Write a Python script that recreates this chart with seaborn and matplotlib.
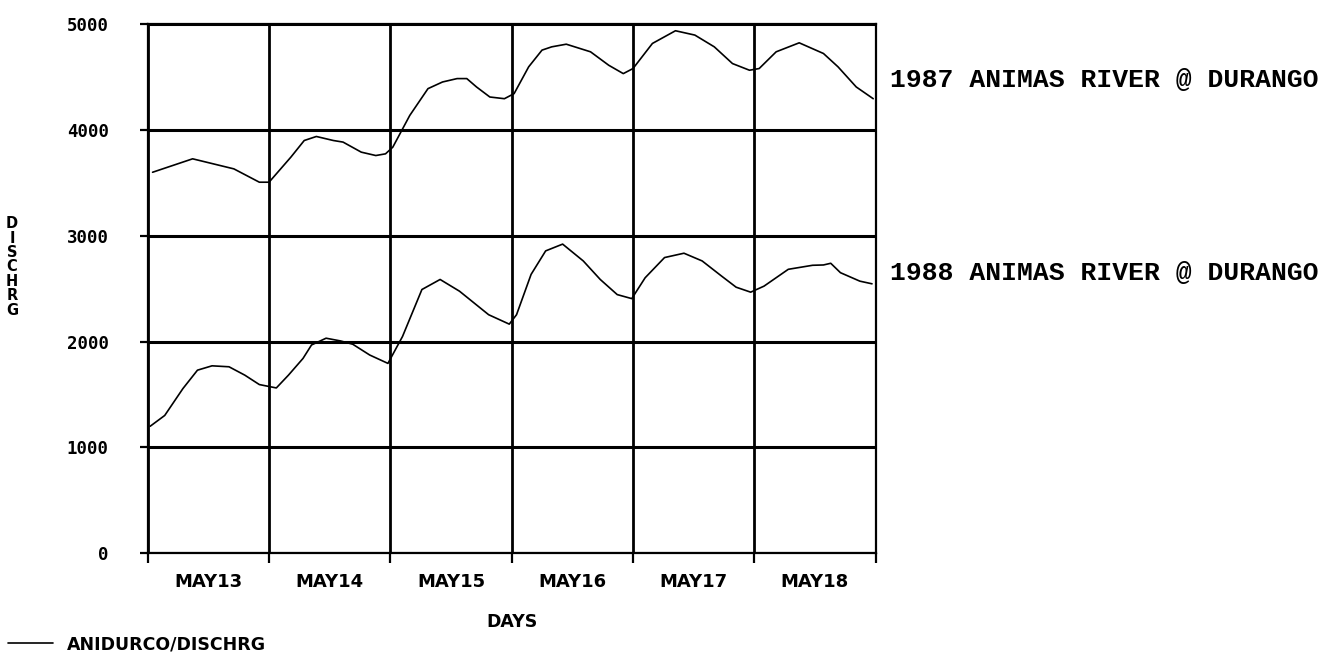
import matplotlib
matplotlib.use("Agg")
import matplotlib.pyplot as plt
import numpy as np
import pandas as pd
import seaborn as sns

day_1987 = [0.04, 0.37, 0.71, 0.92, 1.00, 1.18, 1.29, 1.39, 1.53, 1.61, 1.76, 1.88, 1.96,
            2.02, 2.16, 2.31, 2.43, 2.55, 2.63, 2.71, 2.82, 2.94, 3.02, 3.14, 3.25, 3.33,
            3.45, 3.65, 3.80, 3.92, 4.00, 4.16, 4.35, 4.51, 4.67, 4.82, 4.96, 5.04, 5.18,
            5.37, 5.57, 5.69, 5.84, 5.98]
q_1987 = [3600, 3727, 3632, 3506, 3506, 3743, 3900, 3938, 3900, 3885, 3790, 3758, 3774,
          3837, 4137, 4390, 4453, 4485, 4485, 4406, 4311, 4295, 4343, 4596, 4754, 4785,
          4810, 4738, 4611, 4532, 4580, 4817, 4937, 4896, 4785, 4627, 4564, 4580, 4738,
          4823, 4722, 4596, 4406, 4295]

day_1988 = [0.02, 0.14, 0.29, 0.41, 0.53, 0.67, 0.80, 0.92, 1.06, 1.16, 1.28, 1.35, 1.47,
            1.59, 1.69, 1.83, 1.98, 2.10, 2.26, 2.41, 2.57, 2.81, 2.98, 3.04, 3.16, 3.28,
            3.42, 3.59, 3.73, 3.87, 3.99, 4.10, 4.26, 4.42, 4.57, 4.73, 4.85, 4.97, 5.08,
            5.28, 5.48, 5.57, 5.63, 5.71, 5.87, 5.97]
q_1988 = [1200, 1302, 1556, 1730, 1771, 1762, 1683, 1594, 1562, 1683, 1841, 1968, 2032,
          2006, 1975, 1873, 1794, 2048, 2492, 2587, 2476, 2254, 2165, 2254, 2635, 2857,
          2921, 2762, 2587, 2444, 2406, 2603, 2794, 2835, 2762, 2619, 2514, 2467, 2524,
          2683, 2721, 2724, 2740, 2651, 2571, 2546]

day_labels = ["MAY13", "MAY14", "MAY15", "MAY16", "MAY17", "MAY18"]
y_ticks = [0, 1000, 2000, 3000, 4000, 5000]
series_labels = ["1987 ANIMAS RIVER @ DURANGO", "1988 ANIMAS RIVER @ DURANGO"]

sns.set_style("white")
plt.rcParams.update({"font.family": ["DejaVu Sans"],
                     "axes.linewidth": 1.6,
                     "text.color": "black",
                     "axes.labelcolor": "black",
                     "xtick.color": "black",
                     "ytick.color": "black",
                     "xtick.bottom": True,
                     "ytick.left": True})

df = pd.concat([
    pd.DataFrame({"day": day_1987, "q": q_1987, "year": "1987"}),
    pd.DataFrame({"day": day_1988, "q": q_1988, "year": "1988"}),
])

fig = plt.figure(figsize=(13.43, 6.69), dpi=100)
ax = fig.add_axes([0.110, 0.173, 0.542, 0.791])

sns.lineplot(data=df, x="day", y="q", hue="year", palette=["black", "black"],
             linewidth=1.2, ax=ax, legend=False, sort=False)

ax.set_xlim(0, 6)
ax.set_ylim(0, 5000)

# gridlines at day boundaries, labels in the middle of each day
ax.set_xticks(np.arange(len(day_labels)) + 0.5)
ax.set_xticklabels(day_labels, fontsize=13, fontweight="bold")
ax.set_xticks(np.arange(0, 7), minor=True)
ax.tick_params(axis="x", which="major", length=0, pad=14, bottom=True)
ax.tick_params(axis="x", which="minor", length=7, width=1.6, direction="out", bottom=True)
ax.grid(axis="x", which="minor", color="black", linewidth=2.0)

ax.set_yticks(y_ticks)
ax.set_yticklabels([f"{v}" for v in y_ticks], fontsize=12.5, fontweight="bold",
                   family="DejaVu Sans Mono")
ax.tick_params(axis="y", length=6, width=1.6, direction="out", pad=22, left=True)
ax.grid(axis="y", which="major", color="black", linewidth=2.2)

for s in ["left", "bottom", "top", "right"]:
    ax.spines[s].set_visible(True)
    ax.spines[s].set_color("black")

ax.set_xlabel("DAYS", fontsize=12.5, fontweight="bold", labelpad=16)
ax.set_ylabel("")
fig.text(0.009, 0.601, "\n".join("DISCHRG"), fontsize=10.5, fontweight="bold",
         ha="center", va="center", linespacing=0.95)

fig.text(0.663, 0.880, series_labels[0], fontsize=19, family="Liberation Mono",
         fontweight="bold", va="center")
fig.text(0.663, 0.592, series_labels[1], fontsize=19, family="Liberation Mono",
         fontweight="bold", va="center")

fig.legend(handles=[ax.lines[0]], labels=["ANIDURCO/DISCHRG"], loc="lower left",
           bbox_to_anchor=(-0.006, 0.0), frameon=False, handlelength=2.6,
           prop={"size": 12.5, "weight": "bold"})

fig.savefig("out.png", dpi=100)
